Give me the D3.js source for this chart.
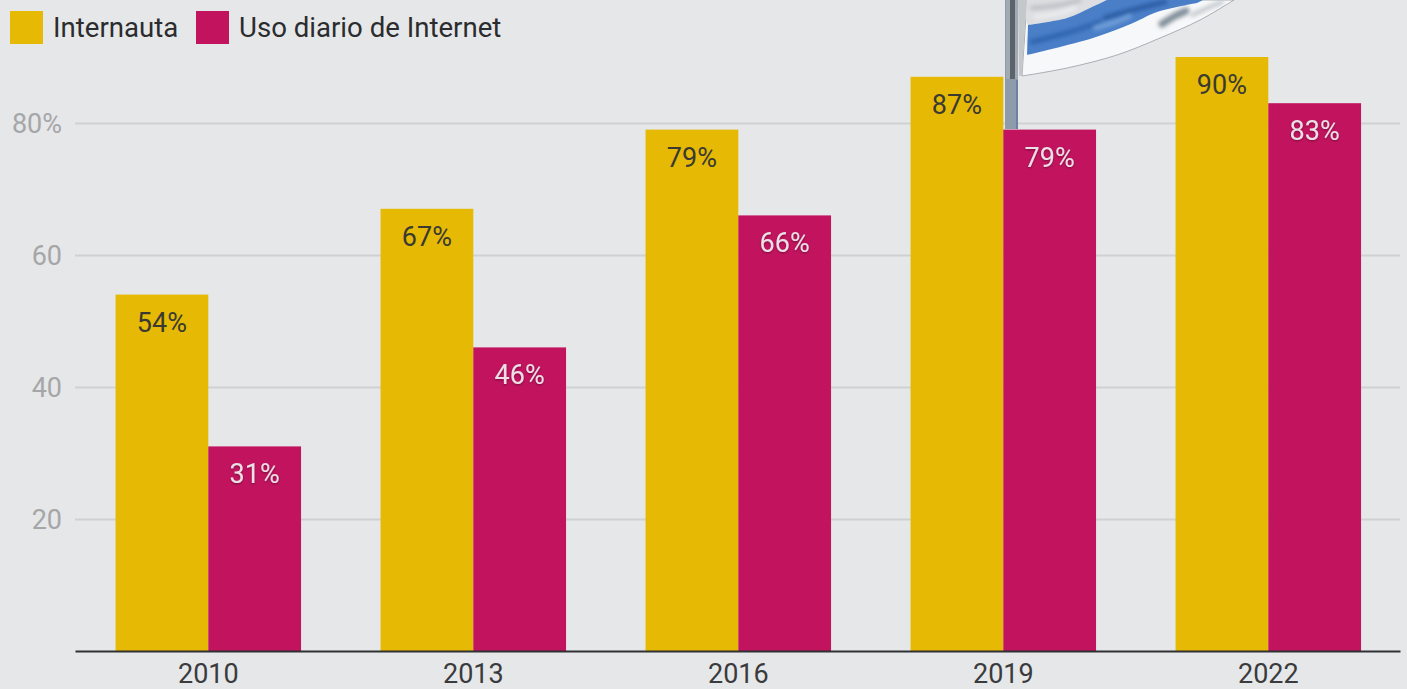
<!DOCTYPE html>
<html>
<head>
<meta charset="utf-8">
<script src="https://cdn.jsdelivr.net/npm/d3@7"></script>
<style>
  html, body { margin: 0; padding: 0; background: #e6e7e9; overflow: hidden; }
  svg { display: block; font-family: Roboto, sans-serif; }
</style>
</head>
<body>
<svg id="chart" width="1407" height="689"></svg>
<script>
const years = ["2010", "2013", "2016", "2019", "2022"];
const seriesNames = ["Internauta", "Uso diario de Internet"];
const internauta = [54, 67, 79, 87, 90];
const usoDiario = [31, 46, 66, 79, 83];
const yTicks = [20, 40, 60, 80];
const seriesValues = [internauta, usoDiario];
const seriesColors = ["#e6b905", "#c2135f"];
const labelColors = ["#3a3a32", "#ebe0e5"];

const svg = d3.select("#chart");
const left = 75, right = 1400, base = 651, top80 = 123;

const x = d3.scaleBand().domain(years).range([left, right])
  .paddingInner(0.3).paddingOuter(0.15).align(0.51);
const xInner = d3.scaleBand().domain([0, 1]).range([0, x.bandwidth()]);
const y = d3.scaleLinear().domain([0, 80]).range([base, top80]);

// Soft shadow behind the value labels on the dark bars
const defs = svg.append("defs");
const shadow = defs.append("filter").attr("id", "labelShadow")
  .attr("x", "-20%").attr("y", "-20%").attr("width", "140%").attr("height", "140%");
shadow.append("feDropShadow").attr("dx", 0).attr("dy", 1).attr("stdDeviation", 1.2)
  .attr("flood-color", "#000").attr("flood-opacity", 0.4);
defs.append("filter").attr("id", "sheen")
  .attr("x", "-30%").attr("y", "-60%").attr("width", "160%").attr("height", "220%")
  .append("feGaussianBlur").attr("stdDeviation", 2.2);
defs.append("filter").attr("id", "soft")
  .append("feGaussianBlur").attr("stdDeviation", 0.5);

// Horizontal gridlines and their labels
const yAxis = d3.axisLeft(y).tickValues(yTicks).tickSize(left - right)
  .tickFormat(d => d === 80 ? d + "%" : d);
const yG = svg.append("g").attr("class", "axis").attr("transform", `translate(${left},0)`).call(yAxis);
yG.select(".domain").remove();
yG.selectAll("line").attr("stroke", "#d0d1d3").attr("stroke-width", 2);
yG.selectAll("text")
  .attr("x", -13).attr("dy", "0.36em")
  .attr("fill", "#a5a6a8").attr("font-size", 27).attr("font-family", "Roboto, sans-serif");

// Flagpole and waving flag, running off the top of the page
const smooth = d3.line().curve(d3.curveCatmullRom);
const flag = svg.append("g").attr("class", "flag");
flag.append("rect").attr("x", 1005).attr("y", 0).attr("width", 13).attr("height", 129).attr("fill", "#8d9bab");
flag.append("rect").attr("x", 1006).attr("y", 0).attr("width", 12).attr("height", 79).attr("fill", "#a3a9b0");
flag.append("rect").attr("x", 1010).attr("y", 0).attr("width", 5).attr("height", 79).attr("fill", "#5a636b");
flag.append("rect").attr("x", 1016).attr("y", 80).attr("width", 2).attr("height", 49).attr("fill", "#6a82a4");

const clothBottom = smooth([[1022, 76], [1067, 68], [1117, 55], [1160, 38], [1200, 20], [1234, 0]]);
flag.append("path")
  .attr("d", clothBottom + "L1027,0Z")
  .attr("fill", "#f7f8f9").attr("stroke", "#8c9096").attr("stroke-width", 0.7);
// Shaded upper white stripe
flag.append("path")
  .attr("d", smooth([[1027, 0], [1028, 25], [1067, 18], [1090, 8], [1107, 0]]) + "Z")
  .attr("fill", "#dcdee1");
// Blue stripe
flag.append("path")
  .attr("d", smooth([[1028, 25], [1067, 18], [1090, 8], [1107, 0]]) + "L1203,0"
    + smooth([[1197, 3], [1157, 12], [1133, 23], [1093, 38], [1027, 55]]).replace(/^M/, "L") + "Z")
  .attr("fill", "#4a7fc8");
// Folds and highlights in the cloth
const folds = [
  { pts: [[1032, 42], [1070, 32], [1100, 22]], c: "#2f63ad", w: 5 },
  { pts: [[1105, 18], [1140, 8], [1165, 2]], c: "#2a5ba3", w: 5 },
  { pts: [[1095, 28], [1115, 22], [1130, 16]], c: "#7ba6dc", w: 4 },
  { pts: [[1032, 8], [1060, 5], [1080, 0]], c: "#b9bdc3", w: 4 },
  { pts: [[1035, 17], [1060, 13], [1075, 8]], c: "#f2f3f4", w: 3 },
  { pts: [[1162, 24], [1175, 16], [1186, 11]], c: "#7f8d98", w: 7 },
  { pts: [[1192, 15], [1210, 7], [1222, 2]], c: "#bcc3c9", w: 4 }
];
flag.selectAll(".fold").data(folds).join("path").attr("class", "fold")
  .attr("d", d => smooth(d.pts)).attr("fill", "none")
  .attr("stroke", d => d.c).attr("stroke-width", d => d.w)
  .attr("stroke-linecap", "round").attr("filter", "url(#sheen)");
// Fold along the hoist
flag.append("path").attr("d", d3.line()([[1018, 0], [1027, 0], [1024, 40], [1022, 76], [1019, 76]]) + "Z")
  .attr("fill", "#c4c8cd").attr("filter", "url(#soft)");

// Grouped bars
const groups = svg.append("g").selectAll("g").data(years).join("g")
  .attr("transform", d => `translate(${x(d)},0)`);

seriesValues.forEach((values, s) => {
  groups.append("rect")
    .attr("x", xInner(s))
    .attr("y", (d, i) => y(values[i]))
    .attr("width", xInner.bandwidth())
    .attr("height", (d, i) => base - y(values[i]))
    .attr("fill", seriesColors[s]);
  groups.append("text")
    .attr("x", xInner(s) + xInner.bandwidth() / 2)
    .attr("y", (d, i) => y(values[i]) + 37)
    .attr("text-anchor", "middle")
    .attr("font-size", 27)
    .attr("fill", labelColors[s])
    .attr("filter", s === 1 ? "url(#labelShadow)" : null)
    .text((d, i) => values[i] + "%");
});

// Baseline and year labels
const xAxis = d3.axisBottom(x).tickSize(0).tickPadding(12.5);
const xG = svg.append("g").attr("class", "axis").attr("transform", `translate(0,${base})`).call(xAxis);
xG.select(".domain").attr("stroke", "#2f3133").attr("stroke-width", 2);
xG.selectAll("text").attr("font-size", 27).attr("fill", "#3a3b3d").attr("font-family", "Roboto, sans-serif");

// Legend
const legendX = [10, 196];
const legend = svg.append("g").selectAll("g").data(seriesNames).join("g")
  .attr("transform", (d, i) => `translate(${legendX[i]},11)`);
legend.append("rect").attr("width", 33).attr("height", 33).attr("fill", (d, i) => seriesColors[i]);
legend.append("text").attr("x", 43).attr("y", 26)
  .attr("font-size", 27.6).attr("fill", "#2b2c2e").text(d => d);
</script>
</body>
</html>
